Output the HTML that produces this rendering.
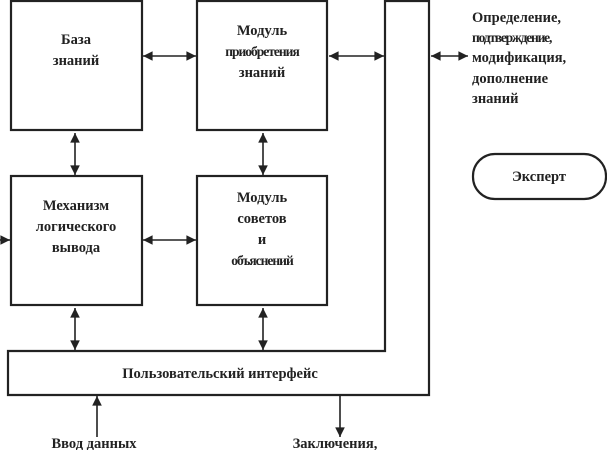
<!DOCTYPE html>
<html><head><meta charset="utf-8"><style>
html,body{margin:0;padding:0;background:#fff;}
svg{display:block;}
text{font-family:"Liberation Serif",serif;font-weight:bold;font-size:14.5px;fill:#222;}
</style></head><body>
<svg width="607" height="450" viewBox="0 0 607 450" xmlns="http://www.w3.org/2000/svg">
<defs>
<marker id="a" viewBox="0 0 10 10" refX="10" refY="5" markerWidth="6.5" markerHeight="6" orient="auto-start-reverse"><path d="M0,0L10,5L0,10z" fill="#222"/></marker>
</defs>
<g fill="none" stroke="#222" stroke-width="2.2">
<rect x="11" y="1" width="131" height="129"/>
<rect x="197" y="1" width="130" height="129"/>
<rect x="11" y="176" width="131" height="129"/>
<rect x="197" y="176" width="130" height="129"/>
<path d="M8,351 H385 V1 H429 V395 H8 Z"/>
<rect x="473" y="154" width="133" height="45" rx="22" ry="22"/>
</g>
<g stroke="#222" stroke-width="1.6" marker-start="url(#a)" marker-end="url(#a)">
<line x1="143" y1="56" x2="196" y2="56"/>
<line x1="329" y1="56" x2="384" y2="56"/>
<line x1="431" y1="56" x2="468" y2="56"/>
<line x1="75" y1="133" x2="75" y2="175"/>
<line x1="263" y1="133" x2="263" y2="175"/>
<line x1="143" y1="240" x2="196" y2="240"/>
<line x1="75" y1="308" x2="75" y2="350"/>
<line x1="263" y1="308" x2="263" y2="350"/>
</g>
<g stroke="#222" stroke-width="1.6" marker-end="url(#a)">
<line x1="0" y1="240" x2="10" y2="240"/>
<line x1="97" y1="437" x2="97" y2="396"/>
<line x1="340" y1="396" x2="340" y2="437"/>
</g>
<g text-anchor="middle">
<text x="76" y="44">База</text>
<text x="76" y="65">знаний</text>
<text x="262" y="35">Модуль</text>
<text x="262" y="56" style="letter-spacing:-1px;font-size:13.5px">приобретения</text>
<text x="262" y="77">знаний</text>
<text x="76" y="210">Механизм</text>
<text x="76" y="231">логического</text>
<text x="76" y="252">вывода</text>
<text x="262" y="202">Модуль</text>
<text x="262" y="223">советов</text>
<text x="262" y="244">и</text>
<text x="262" y="265" style="letter-spacing:-1px;font-size:13.5px">объяснений</text>
<text x="220" y="378">Пользовательский интерфейс</text>
<text x="539" y="181">Эксперт</text>
<text x="94" y="448">Ввод данных</text>
<text x="335" y="448">Заключения,</text>
</g>
<text x="472" y="22">Определение,</text>
<text x="472" y="42" style="letter-spacing:-1.2px;font-size:13.5px">подтверждение,</text>
<text x="472" y="62">модификация,</text>
<text x="472" y="83">дополнение</text>
<text x="472" y="103">знаний</text>
</svg>
</body></html>
